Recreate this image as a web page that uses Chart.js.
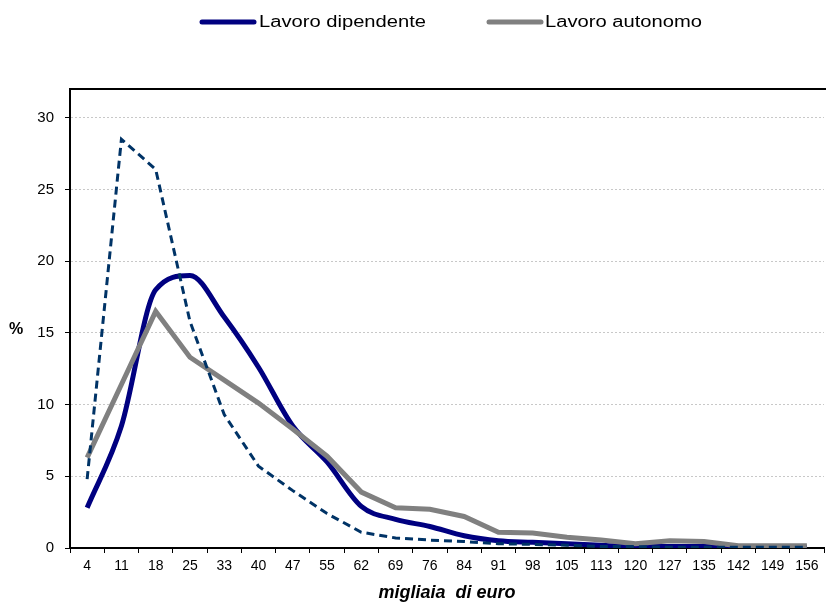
<!DOCTYPE html>
<html>
<head>
<meta charset="utf-8">
<script src="https://cdn.jsdelivr.net/npm/chart.js@4/dist/chart.umd.min.js"></script>
<style>
    html, body { margin: 0; padding: 0; background: #fff; }
    #wrap { width: 826px; height: 606px; position: relative; }
</style>
</head>
<body>
<div id="wrap"><canvas id="chart"></canvas></div>
<script>
// Classi di reddito (migliaia di euro)
const classi = ['4', '11', '18', '25', '33', '40', '47', '55', '62', '69', '76',
    '84', '91', '98', '105', '113', '120', '127', '135', '142', '149', '156'];

// Distribuzioni percentuali
const lavoroDipendente = [2.8, 8.5, 18.0, 19.0, 16.1, 12.6, 8.5, 6.0, 2.9, 2.0, 1.5,
    0.85, 0.5, 0.4, 0.3, 0.2, 0.1, 0.1, 0.1, 0.05, 0.05, 0.05];
const lavoroAutonomo = [6.3, 11.4, 16.5, 13.3, 11.7, 10.1, 8.3, 6.4, 3.9, 2.8, 2.7,
    2.2, 1.1, 1.05, 0.75, 0.55, 0.3, 0.5, 0.45, 0.15, 0.15, 0.15];
const serieTratteggiata = [4.8, 28.5, 26.4, 15.8, 9.3, 5.7, 4.0, 2.4, 1.1, 0.7, 0.55,
    0.45, 0.3, 0.25, 0.2, 0.1, 0.1, 0.05, 0.05, 0.05, 0.05, 0.05];

const yTicks = [0, 5, 10, 15, 20, 25, 30];
const fontFamily = '"Liberation Sans", Arial, sans-serif';

// Legenda, cornice superiore e simbolo % disegnati a mano
const extras = {
    id: 'extras',
    afterDraw(chart) {
        const ctx = chart.ctx;
        const area = chart.chartArea;
        ctx.save();

        // linea superiore del riquadro
        ctx.strokeStyle = '#000';
        ctx.lineWidth = 2;
        ctx.beginPath();
        ctx.moveTo(area.left, area.top);
        ctx.lineTo(area.right + 2, area.top);
        ctx.stroke();

        // "%"
        ctx.fillStyle = '#000';
        ctx.font = 'bold 16px ' + fontFamily;
        ctx.textAlign = 'left';
        ctx.textBaseline = 'middle';
        ctx.fillText('%', 9, chart.scales.y.getPixelForValue(15) - 3);

        // legenda
        const items = [
            { ds: 0, x1: 202, x2: 254, tx: 259 },
            { ds: 1, x1: 489, x2: 541, tx: 545 }
        ];
        items.forEach(it => {
            const ds = chart.data.datasets[it.ds];
            ctx.strokeStyle = ds.borderColor;
            ctx.lineWidth = 5;
            ctx.lineCap = 'round';
            ctx.setLineDash([]);
            ctx.beginPath();
            ctx.moveTo(it.x1, 22);
            ctx.lineTo(it.x2, 22);
            ctx.stroke();

            ctx.save();
            ctx.translate(it.tx, 23);
            ctx.scale(1.26, 1);
            ctx.fillStyle = '#000';
            ctx.font = '16px ' + fontFamily;
            ctx.textBaseline = 'middle';
            ctx.fillText(ds.label, 0, 0);
            ctx.restore();
        });
        ctx.restore();
    }
};

const ctx = document.getElementById('chart').getContext('2d');
new Chart(ctx, {
    type: 'line',
    data: {
        labels: classi,
        datasets: [
            {
                label: 'Lavoro dipendente',
                data: lavoroDipendente,
                borderColor: '#000080',
                borderWidth: 5,
                pointRadius: 0,
                tension: 0.35,
                cubicInterpolationMode: 'monotone',
                order: 2
            },
            {
                label: 'Lavoro autonomo',
                data: lavoroAutonomo,
                borderColor: '#808080',
                borderWidth: 5,
                pointRadius: 0,
                tension: 0,
                order: 1
            },
            {
                label: '',
                data: serieTratteggiata,
                borderColor: '#003366',
                borderWidth: 3,
                borderDash: [8, 5],
                pointRadius: 0,
                tension: 0,
                order: 0
            }
        ]
    },
    options: {
        responsive: true,
        maintainAspectRatio: false,
        animation: false,
        layout: {
            padding: { top: 89, right: 2, left: 0, bottom: 0 }
        },
        plugins: {
            legend: { display: false },
            tooltip: { enabled: false }
        },
        scales: {
            x: {
                offset: true,
                grid: {
                    offset: true,
                    drawOnChartArea: false,
                    drawTicks: true,
                    tickLength: 5,
                    tickColor: '#000',
                    tickWidth: 1
                },
                border: { color: '#000', width: 2 },
                ticks: {
                    color: '#000',
                    font: { family: fontFamily, size: 14 },
                    maxRotation: 0,
                    autoSkip: false,
                    padding: 5
                },
                title: {
                    display: true,
                    text: 'migliaia  di euro',
                    color: '#000',
                    font: { family: fontFamily, size: 18, weight: 'bold', style: 'italic' },
                    padding: { top: 0, bottom: 2 }
                },
                afterFit(scale) {
                    scale.height = 58;
                }
            },
            y: {
                min: 0,
                max: 32,
                grid: {
                    color: '#c8c8c8',
                    lineWidth: 1,
                    drawTicks: true,
                    tickLength: 5,
                    tickColor: '#000',
                    tickBorderDash: []
                },
                border: { color: '#000', width: 2, dash: [2, 2] },
                afterBuildTicks(scale) {
                    scale.ticks = yTicks.map(v => ({ value: v }));
                },
                ticks: {
                    color: '#000',
                    font: { family: fontFamily, size: 15 },
                    padding: 11
                },
                afterFit(scale) {
                    scale.width = 70;
                }
            }
        }
    },
    plugins: [extras]
});
</script>
</body>
</html>
